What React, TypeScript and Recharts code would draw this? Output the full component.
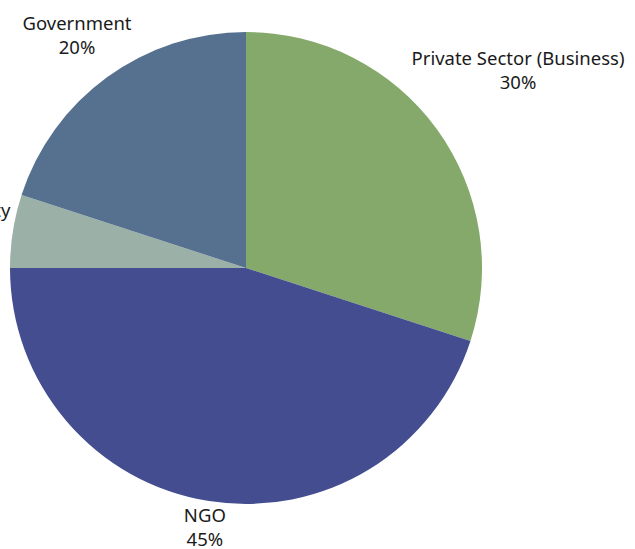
import React from "react";
import { PieChart, Pie, Cell } from "recharts";

const categories = ["Private Sector (Business)", "NGO", "Civil Society", "Government"];
const shares = [30, 45, 5, 20];
const colors = ["#85A96A", "#434D8F", "#9BB0A6", "#56718F"];

const data = categories.map((name, i) => ({ name, value: shares[i] }));

const W = 635;
const H = 549;
const CX = 246;
const CY = 268;
const R = 236;
const FONT_SIZE = 18.5;
const LINE_H = 24;
const FONT = "'Noto Sans', sans-serif";

let ctx: CanvasRenderingContext2D | null = null;
function textWidth(s: string): number {
  if (!ctx) ctx = document.createElement("canvas").getContext("2d");
  if (!ctx) return s.length * FONT_SIZE * 0.55;
  ctx.font = `${FONT_SIZE}px 'Noto Sans'`;
  return ctx.measureText(s).width;
}

const RADIAN = Math.PI / 180;

function renderLabel(props: any) {
  const { midAngle, name, percent } = props;
  const pct = `${Math.round(percent * 100)}%`;
  const w = Math.max(textWidth(name), textWidth(pct));
  const h = LINE_H * 2;
  const dx = Math.cos(-midAngle * RADIAN);
  const dy = Math.sin(-midAngle * RADIAN);
  // push the label box out until its nearest edge clears the rim
  const d = R + Math.abs(dx) * (w / 2) + Math.abs(dy) * (h / 2);
  const x = CX + dx * d;
  const y = CY + dy * d - 1;
  return (
    <text
      x={x}
      y={y}
      textAnchor="middle"
      fill="#1a1a1a"
      fontFamily={FONT}
      fontSize={FONT_SIZE}
    >
      <tspan x={x} y={y - LINE_H / 2} dominantBaseline="central">
        {name}
      </tspan>
      <tspan x={x} y={y + LINE_H / 2} dominantBaseline="central">
        {pct}
      </tspan>
    </text>
  );
}

export default function App() {
  return (
    <div style={{ position: "absolute", left: 0, top: 0, width: W, height: H, background: "#fff" }}>
      <PieChart width={W} height={H} margin={{ top: 0, right: 0, bottom: 0, left: 0 }}>
        <Pie
          data={data}
          dataKey="value"
          nameKey="name"
          cx={CX}
          cy={CY}
          outerRadius={R}
          startAngle={90}
          endAngle={-270}
          stroke="none"
          label={renderLabel}
          labelLine={false}
          isAnimationActive={false}
        >
          {data.map((d, i) => (
            <Cell key={d.name} fill={colors[i]} />
          ))}
        </Pie>
      </PieChart>
    </div>
  );
}
